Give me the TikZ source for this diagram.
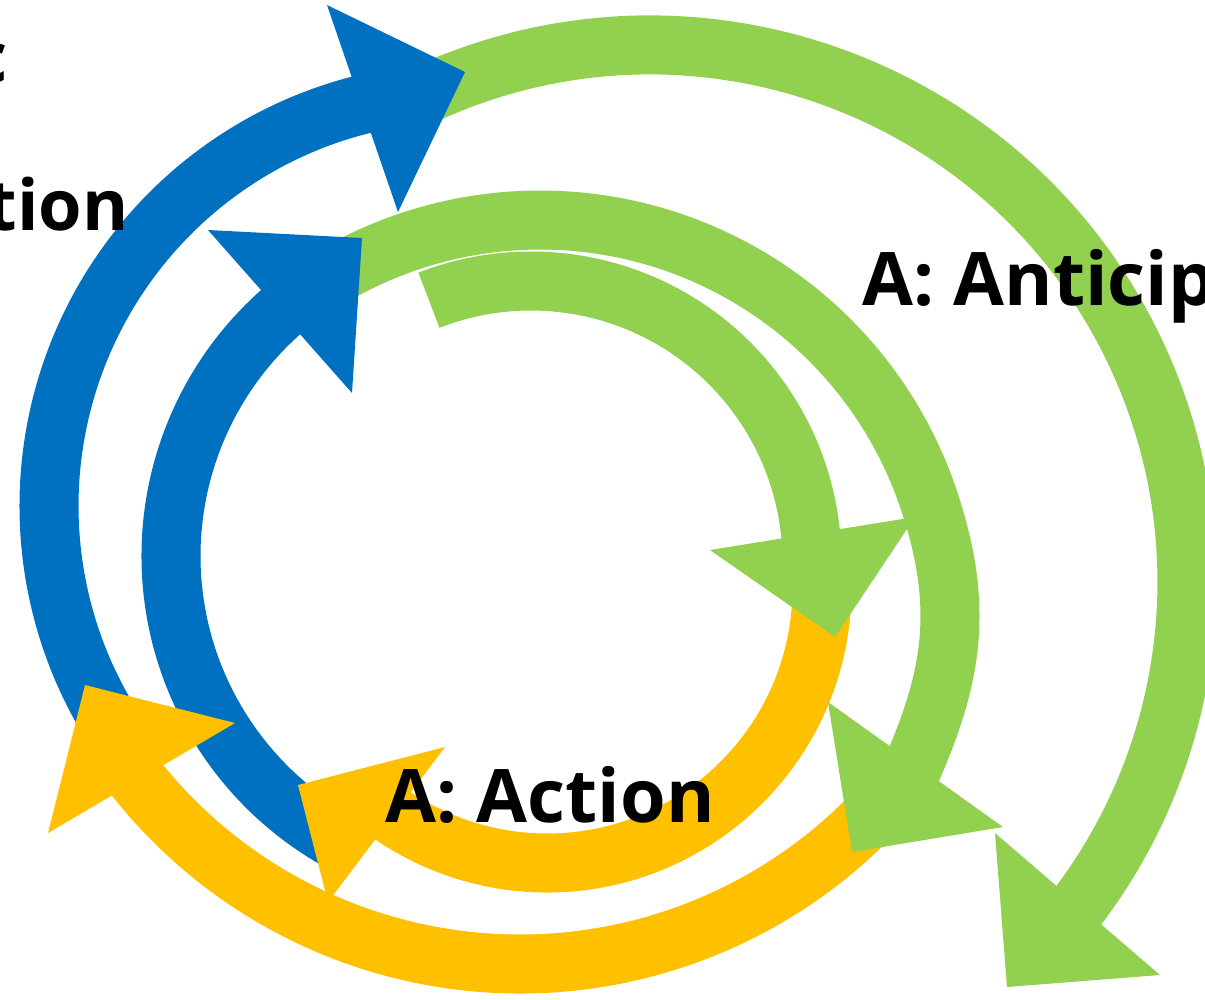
\documentclass[tikz,border=0pt]{standalone}
\usepackage{fontspec}
\setsansfont{Open Sans}
\definecolor{arrowblue}{HTML}{0070C0}
\definecolor{arrowgreen}{HTML}{92D050}
\definecolor{arrowgold}{HTML}{FFC000}
\begin{document}
\begin{tikzpicture}[x =0.01cm ,y =-0.01cm ,
band/.style ={ line width =0.59cm },
lbl/.style ={ font =\sffamily\bfseries\fontsize{21}{25}\selectfont , inner sep =0pt },
sidelbl/.style ={ lbl , font =\sffamily\bfseries\fontsize{20}{24}\selectfont , anchor =base east }]
\useasboundingbox (0,0) rectangle (1205,999);
\clip (0,0) rectangle (1205,999);
% bands
\draw[band,arrowgold] ([shift={(520,474)}]42:490) arc[start angle=42, end angle=143, radius=490];
\draw[band,arrowgold] ([shift={(547,588)}]3:275) arc[start angle=3, end angle=125, radius=275];
\draw[band,arrowblue] ([shift={(463,506)}]150:414) arc[start angle=150, end angle=257, radius=414];
\draw[band,arrowblue] ([shift={(497,556)}]119:326) arc[start angle=119, end angle=229, radius=326];
\draw[band,arrowgreen] ([shift={(531,562)}]248.7:281) arc[start angle=248.7, end angle=357, radius=281];
\draw[band,arrowgreen] ([shift={(540,630)}]241.5:410) arc[start angle=241.5, end angle=340, radius=410]
  .. controls (969,612) and (950,685) .. (905,785);
\draw[band,arrowgreen] ([shift={(650,582)}]245.5:537) arc[start angle=245.5, end angle=398.5, radius=537];
% heads
\fill[arrowblue] (327,5) -- (465,72) -- (398,212) -- cycle;
\fill[arrowblue] (208,230) -- (362,238) -- (352,393) -- cycle;
\fill[arrowgold] (48,833) -- (85,685) -- (235,723) -- cycle;
\fill[arrowgold] (298,785) -- (445,747) -- (328,902) -- cycle;
\fill[arrowgreen] (710,550) -- (915,517) -- (835,637) -- cycle;
\fill[arrowgreen] (828,702) -- (1003,827) -- (852,852) -- cycle;
\fill[arrowgreen] (995,833) -- (1160,975) -- (1007,987) -- cycle;
% labels
\node[sidelbl] (refl1) at (8,82) {c};
\node[sidelbl] (refl2) at (129,230) {tion};
\node[lbl, anchor=base west] (antic) at (862,305) {A: Anticip};
\node[lbl, anchor=base west] (actn) at (385,822) {A: Action};
\end{tikzpicture}
\end{document}
